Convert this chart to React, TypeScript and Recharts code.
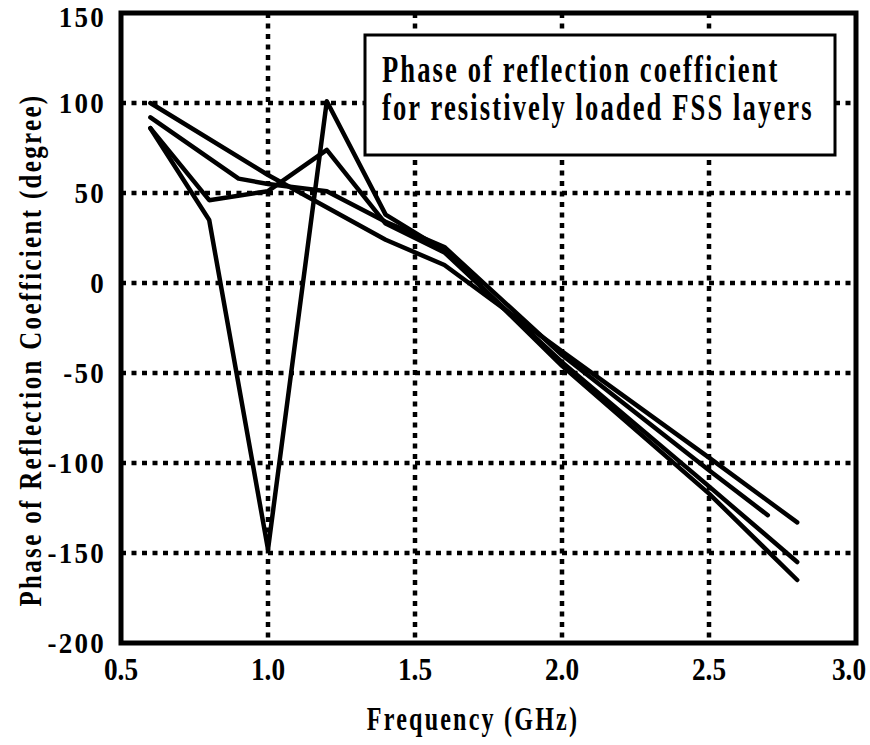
import React from 'react';
import { LineChart, Line, XAxis, YAxis, CartesianGrid, ReferenceArea, Label } from 'recharts';

const xTicks = [0.5, 1.0, 1.5, 2.0, 2.5, 3.0];
const yTicks = [-200, -150, -100, -50, 0, 50, 100, 150];

const freq1 = [0.6, 0.8, 1.0, 1.2, 1.4, 1.6, 2.0, 2.5, 2.8];
const phase1 = [86, 35, -148, 101, 38, 18, -46, -117, -165];

const freq2 = [0.6, 0.8, 1.0, 1.2, 1.4, 1.6, 2.0, 2.5, 2.8];
const phase2 = [86, 46, 51, 74, 33, 17, -44, -113, -155];

const freq3 = [0.6, 0.9, 1.0, 1.2, 1.4, 1.6, 2.0, 2.5, 2.7];
const phase3 = [92, 58, 55, 51, 34, 20, -40, -104, -129];

const freq4 = [0.6, 1.0, 1.4, 1.6, 2.0, 2.5, 2.8];
const phase4 = [100, 60, 24, 10, -38, -97, -133];

const toPts = (xs: number[], ys: number[]) => xs.map((x, i) => ({ x, y: ys[i] }));
const series = [toPts(freq1, phase1), toPts(freq2, phase2), toPts(freq3, phase3), toPts(freq4, phase4)];

const FONT = '"Liberation Serif", "Times New Roman", serif';

const YTitle = () => (
  <text
    transform="translate(41,350) rotate(-90) scale(0.78,1)"
    x={0}
    y={0}
    textAnchor="middle"
    fontFamily={FONT}
    fontWeight="bold"
    fontSize={32}
    letterSpacing={3}
    fill="#000"
  >
    Phase of Reflection Coefficient (degree)
  </text>
);

const XTitle = () => (
  <text
    transform="translate(473,730) scale(0.73,1)"
    x={0}
    y={0}
    textAnchor="middle"
    fontFamily={FONT}
    fontWeight="bold"
    fontSize={33}
    letterSpacing={3}
    fill="#000"
  >
    Frequency (GHz)
  </text>
);

const XTick = (props: any) => {
  const { x, y, payload } = props;
  const cx = Math.min(x, 849);
  return (
    <text
      transform={`translate(${cx},${y + 37}) scale(0.88,1)`}
      textAnchor="middle"
      fontFamily={FONT}
      fontWeight="bold"
      fontSize={31}
      fill="#000"
    >
      {Number(payload.value).toFixed(1)}
    </text>
  );
};

const YTick = (props: any) => {
  const { x, y, payload } = props;
  const by = Math.max(y + 10, 27);
  return (
    <text
      transform={`translate(${x},${by}) scale(0.9,1)`}
      textAnchor="end"
      fontFamily={FONT}
      fontWeight="bold"
      fontSize={30}
      letterSpacing={2.5}
      fill="#000"
    >
      {String(payload.value)}
    </text>
  );
};

export default function App() {
  return (
    <div style={{ position: 'absolute', left: 0, top: 0, width: 870, height: 745, background: '#fff' }}>
      <LineChart width={870} height={745} margin={{ top: 13, right: 14, bottom: 2, left: 0 }}>
        <CartesianGrid
          stroke="#000"
          strokeWidth={4.5}
          strokeDasharray="5 5.5"
          verticalPoints={[268, 415, 562, 709]}
          horizontalPoints={[103, 193, 283, 373, 463, 553]}
        />
        <XAxis
          type="number"
          dataKey="x"
          domain={[0.5, 3.0]}
          ticks={xTicks}
          allowDataOverflow
          axisLine={false}
          tickLine={false}
          tickSize={0}
          tickMargin={0}
          height={100}
          tick={<XTick />}
        >
          <Label content={<XTitle />} />
        </XAxis>
        <YAxis
          type="number"
          dataKey="y"
          domain={[-200, 150]}
          ticks={yTicks}
          allowDataOverflow
          axisLine={false}
          tickLine={false}
          tickSize={0}
          tickMargin={15}
          width={121}
          tick={<YTick />}
        >
          <Label content={<YTitle />} />
        </YAxis>
        <ReferenceArea x1={0.5} x2={3.0} y1={-200} y2={150} fill="none" stroke="#000" strokeWidth={5} />
        {series.map((d, i) => (
          <Line
            key={i}
            data={d}
            dataKey="y"
            type="linear"
            stroke="#000"
            strokeWidth={4.5}
            strokeLinejoin="round"
            strokeLinecap="round"
            dot={false}
            activeDot={false}
            isAnimationActive={false}
          />
        ))}
      </LineChart>
      <svg width={870} height={745} style={{ position: 'absolute', left: 0, top: 0, pointerEvents: 'none' }}>
        <rect x={365} y={35} width={470} height={120} fill="#fff" stroke="#000" strokeWidth={3} />
        <text transform="translate(382,82) scale(0.7,1)" fontFamily={FONT} fontWeight="bold" fontSize={38} letterSpacing={3} fill="#000">
          Phase of reflection coefficient
        </text>
        <text transform="translate(382,120) scale(0.7,1)" fontFamily={FONT} fontWeight="bold" fontSize={38} letterSpacing={3} fill="#000">
          for resistively loaded FSS layers
        </text>
      </svg>
    </div>
  );
}
